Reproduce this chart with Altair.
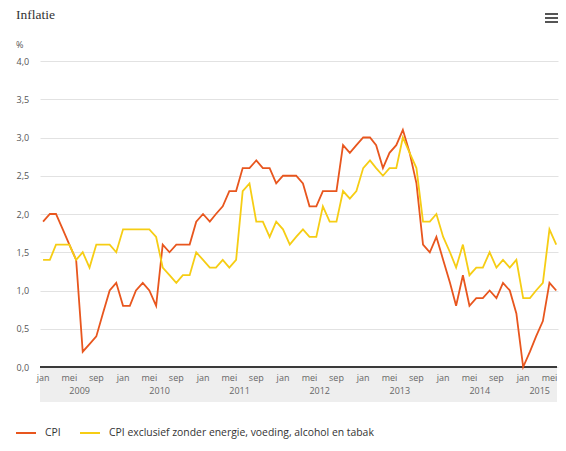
import altair as alt
import pandas as pd

# Monthly inflation (%), January 2009 - June 2015
first_month = "2009-01-01"
cpi = [
    1.9, 2.0, 2.0, 1.8, 1.6, 1.4, 0.2, 0.3, 0.4, 0.7, 1.0, 1.1,
    0.8, 0.8, 1.0, 1.1, 1.0, 0.8, 1.6, 1.5, 1.6, 1.6, 1.6, 1.9,
    2.0, 1.9, 2.0, 2.1, 2.3, 2.3, 2.6, 2.6, 2.7, 2.6, 2.6, 2.4,
    2.5, 2.5, 2.5, 2.4, 2.1, 2.1, 2.3, 2.3, 2.3, 2.9, 2.8, 2.9,
    3.0, 3.0, 2.9, 2.6, 2.8, 2.9, 3.1, 2.8, 2.4, 1.6, 1.5, 1.7,
    1.4, 1.1, 0.8, 1.2, 0.8, 0.9, 0.9, 1.0, 0.9, 1.1, 1.0, 0.7,
    0.0, 0.2, 0.4, 0.6, 1.1, 1.0,
]
cpi_core = [
    1.4, 1.4, 1.6, 1.6, 1.6, 1.4, 1.5, 1.3, 1.6, 1.6, 1.6, 1.5,
    1.8, 1.8, 1.8, 1.8, 1.8, 1.7, 1.3, 1.2, 1.1, 1.2, 1.2, 1.5,
    1.4, 1.3, 1.3, 1.4, 1.3, 1.4, 2.3, 2.4, 1.9, 1.9, 1.7, 1.9,
    1.8, 1.6, 1.7, 1.8, 1.7, 1.7, 2.1, 1.9, 1.9, 2.3, 2.2, 2.3,
    2.6, 2.7, 2.6, 2.5, 2.6, 2.6, 3.0, 2.8, 2.6, 1.9, 1.9, 2.0,
    1.7, 1.5, 1.3, 1.6, 1.2, 1.3, 1.3, 1.5, 1.3, 1.4, 1.3, 1.4,
    0.9, 0.9, 1.0, 1.1, 1.8, 1.6,
]
series_names = ["CPI", "CPI exclusief zonder energie, voeding, alcohol en tabak"]
series_colors = ["#E8561E", "#F6CD14"]
month_names = {1: "jan", 5: "mei", 9: "sep"}
y_ticks = [0, 0.5, 1.0, 1.5, 2.0, 2.5, 3.0, 3.5, 4.0]

FONT = "Open Sans"
W, H = 518, 306

dates = pd.date_range(first_month, periods=len(cpi), freq="MS")
data = pd.DataFrame({
    "datum": list(dates) * 2,
    "waarde": cpi + cpi_core,
    "reeks": [series_names[0]] * len(cpi) + [series_names[1]] * len(cpi_core),
})

ticks = pd.DataFrame({"datum": [d for d in dates if d.month in month_names]})
ticks["label"] = [month_names[d.month] for d in ticks["datum"]]

yrs = pd.DataFrame({"datum": dates})
yrs["jaar"] = yrs["datum"].dt.year.astype(str)
year_centers = (
    yrs.groupby("jaar")["datum"].agg(["min", "max"]).reset_index()
)
year_centers["datum"] = year_centers["min"] + (year_centers["max"] - year_centers["min"]) / 2
year_centers = year_centers[["jaar", "datum"]]

x_scale = alt.Scale(
    domain=[alt.DateTime(year=2008, month=12, date=18),
            alt.DateTime(year=2015, month=6, date=9)]
)
y_scale = alt.Scale(domain=[0, 4])

# category band under the time axis
band = alt.Chart(pd.DataFrame({"b": [0]})).mark_rect(color="#eeeeee").encode(
    x=alt.value(0), x2=alt.value(W - 1), y=alt.value(H + 1), y2=alt.value(H + 35)
)

axis_line = alt.Chart(pd.DataFrame({"b": [0]})).mark_rule(
    color="#3a3a3a", strokeWidth=2
).encode(x=alt.value(0), x2=alt.value(W - 1), y=alt.value(H))

lines = alt.Chart(data).mark_line(strokeWidth=1.8).encode(
    x=alt.X("datum:T", scale=x_scale, axis=None),
    y=alt.Y(
        "waarde:Q", scale=y_scale,
        axis=alt.Axis(
            values=y_ticks, title=None, domain=False, ticks=False, tickSize=0,
            grid=True, gridColor="#e2e2e2", gridWidth=1,
            labelAlign="left", labelPadding=24, labelBaseline="middle",
            labelFont=FONT, labelFontSize=9, labelColor="#555555",
            labelExpr="replace(format(datum.value, '.1f'), '.', ',')",
        ),
    ),
    color=alt.Color("reeks:N", scale=alt.Scale(domain=series_names, range=series_colors),
                    legend=None),
    detail="reeks:N",
)

month_labels = alt.Chart(ticks).mark_text(
    font=FONT, fontSize=9, color="#666666", baseline="middle"
).encode(
    x=alt.X("datum:T", scale=x_scale, axis=None),
    y=alt.value(H + 11),
    text="label:N",
)

year_labels = alt.Chart(year_centers).mark_text(
    font=FONT, fontSize=9, color="#666666", baseline="middle"
).encode(
    x=alt.X("datum:T", scale=x_scale, axis=None),
    y=alt.value(H + 24),
    text="jaar:N",
)

title = alt.Chart(pd.DataFrame({"t": ["Inflatie"]})).mark_text(
    font="Liberation Serif", fontSize=13.5, color="#333333", align="left", baseline="middle"
).encode(x=alt.value(-24), y=alt.value(-46), text="t:N")

unit = alt.Chart(pd.DataFrame({"t": ["%"]})).mark_text(
    font=FONT, fontSize=9, color="#555555", align="left", baseline="middle"
).encode(x=alt.value(-24), y=alt.value(-16), text="t:N")

# menu icon
menu = [
    alt.Chart(pd.DataFrame({"b": [0]})).mark_rule(color="#555555", strokeWidth=2).encode(
        x=alt.value(505), x2=alt.value(518), y=alt.value(yy)
    )
    for yy in (-47, -43, -39)
]

# legend
legend_y = 372
legend_marks = []
for i, (name, col) in enumerate(zip(series_names, series_colors)):
    x0 = -24 + i * 64
    legend_marks.append(
        alt.Chart(pd.DataFrame({"b": [0]})).mark_rule(color=col, strokeWidth=2).encode(
            x=alt.value(x0), x2=alt.value(x0 + 20), y=alt.value(legend_y)
        )
    )
    legend_marks.append(
        alt.Chart(pd.DataFrame({"t": [name]})).mark_text(
            font=FONT, fontSize=10.4, color="#333333", align="left", baseline="middle"
        ).encode(x=alt.value(x0 + 29), y=alt.value(legend_y), text="t:N")
    )

chart = alt.layer(
    band, axis_line, lines, month_labels, year_labels, title, unit, *menu, *legend_marks
).properties(
    width=W, height=H,
    autosize=alt.AutoSizeParams(type="none"),
    padding={"left": 40, "top": 61, "right": 8, "bottom": 84},
    background="white",
).configure_view(stroke=None)

chart.save("out.html", embed_options={"renderer": "svg", "actions": False})
